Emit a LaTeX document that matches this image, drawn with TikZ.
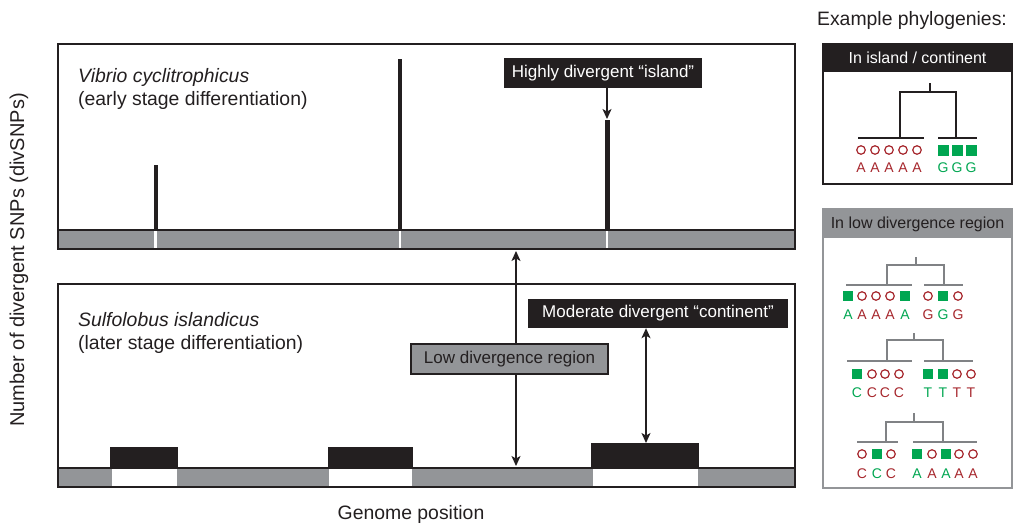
\documentclass[tikz,border=0pt]{standalone}
\usepackage{fontspec}
\setmainfont{Liberation Sans}
\usetikzlibrary{arrows.meta}
\definecolor{ink}{HTML}{231F20}
\definecolor{bargray}{HTML}{939598}
\definecolor{treegray}{HTML}{808285}
\definecolor{sred}{HTML}{A6262C}
\definecolor{sgreen}{HTML}{00A651}
\begin{document}
\begin{tikzpicture}[x=1pt,y=-1pt,
  lab/.style={font=\fontsize{19.4}{23}\selectfont, text=ink, inner sep=0pt},
  blackbox/.style={fill=ink, text=white, font=\fontsize{17}{20}\selectfont, inner sep=0pt},
  graybox/.style={fill=bargray, draw=ink, line width=1.2pt, text=ink, font=\fontsize{17}{20}\selectfont, inner sep=0pt},
  hdr/.style={font=\fontsize{16}{19}\selectfont, inner sep=0pt},
  lett/.style={font=\fontsize{14}{16}\selectfont, inner sep=0pt},
  arr/.style={-{Stealth[length=10pt,width=9pt,inset=2.5pt]}, line width=1.2pt, draw=ink},
  arrr/.style={{Stealth[length=10pt,width=9pt,inset=2.5pt]}-{Stealth[length=10pt,width=9pt,inset=2.5pt]}, line width=1.2pt, draw=ink},
  oc/.style={draw=sred, line width=1.2pt, fill=white, circle, minimum size=8.5pt, inner sep=0pt},
  sq/.style={fill=sgreen, minimum size=11pt, inner sep=0pt},
  sqs/.style={fill=sgreen, minimum size=10pt, inner sep=0pt},
  btree/.style={draw=ink, line width=2pt},
  gtree/.style={draw=treegray, line width=2pt}
]
\useasboundingbox (0,0) rectangle (1014,525);

% ---------- top panel ----------
\fill[bargray] (58,230) rectangle (795,249);
\fill[white] (154.2,231) rectangle (156.8,248);
\fill[white] (398.7,231) rectangle (401.3,248);
\fill[white] (605.7,231) rectangle (608.3,248);
\draw[ink, line width=1.5pt] (58,230) rectangle (795,249);
\draw[ink, line width=2pt] (58,249) -- (58,44) -- (795,44) -- (795,249);
\fill[ink] (153.5,165) rectangle (157.5,230);
\fill[ink] (398,59) rectangle (402,230);
\fill[ink] (605,120) rectangle (609.5,230);
\coordinate (spk3) at (607,119);

\node[lab, anchor=base west] (vib) at (78,82) {\itshape Vibrio cyclitrophicus};
\node[lab, anchor=base west] (vibs) at (78,105) {(early stage differentiation)};

\node[blackbox, minimum width=198pt, minimum height=30pt] (island) at (603,73) {Highly divergent “island”};
\draw[arr] (island.south -| spk3) -- (spk3);

% ---------- bottom panel ----------
\fill[bargray] (58,468) rectangle (795,487);
\fill[white] (112,469) rectangle (177,486);
\fill[white] (329,469) rectangle (412,486);
\fill[white] (593,469) rectangle (698,486);
\draw[ink, line width=1.5pt] (58,468) rectangle (795,487);
\draw[ink, line width=2pt] (58,487) -- (58,284) -- (795,284) -- (795,487);
\fill[ink] (110,447) rectangle (178,468);
\fill[ink] (328,447) rectangle (413,468);
\fill[ink] (591,443) rectangle (699,468);

\node[lab, anchor=base west] (sul) at (78,326) {\itshape Sulfolobus islandicus};
\node[lab, anchor=base west] (suls) at (78,349) {(later stage differentiation)};

\coordinate (lowtop) at (516,251);
\coordinate (lowbot) at (516,466);
\draw[arrr] (lowtop) -- (lowbot);
\node[graybox, minimum width=197pt, minimum height=30pt] (low) at (509.5,359) {Low divergence region};

\node[blackbox, minimum width=260pt, minimum height=29pt] (cont) at (658,313.5) {Moderate divergent “continent”};
\coordinate (blk3) at (646,443);
\draw[arrr] (cont.south -| blk3) -- (blk3);

% ---------- axes labels ----------
\node[lab, rotate=90, font=\fontsize{20}{24}\selectfont] (ylab) at (19,260) {Number of divergent SNPs (divSNPs)};
\node[lab, anchor=base] (xlab) at (411,519) {Genome position};

% ---------- right panel ----------
\node[lab] (ex) at (912,20) {Example phylogenies:};

% box 1
\draw[ink, line width=2pt] (823,44) rectangle (1012,184);
\fill[ink] (823,44) rectangle (1012,72);
\node[hdr, text=white] (h1) at (917.5,58) {In island / continent};
\draw[btree] (930,83) -- (930,92);
\draw[btree] (900,138) -- (900,92) -- (956,92) -- (956,138);
\draw[btree] (858,138) -- (924,138);
\draw[btree] (938,138) -- (977,138);
\foreach \x [count=\i] in {861,875,889,903,917} {
  \node[oc] (a1o\i) at (\x,150) {};
  \node[lett, text=sred] (a1l\i) at (\x,168) {A};
}
\foreach \x [count=\i] in {943,957,971} {
  \node[sq] (a1s\i) at (\x,150) {};
  \node[lett, text=sgreen] (a1g\i) at (\x,168) {G};
}

% box 2
\draw[bargray, line width=2pt] (823,209) rectangle (1012,488);
\fill[bargray] (823,209) rectangle (1012,238);
\node[hdr, text=ink] (h2) at (917.5,224) {In low divergence region};

% tree 1
\draw[gtree] (916,257) -- (916,265);
\draw[gtree] (887,285) -- (887,265) -- (944,265) -- (944,285);
\draw[gtree] (846,285) -- (912,285);
\draw[gtree] (924,285) -- (963,285);
\foreach \x/\k/\c/\t [count=\i] in {848/sqs/sgreen/A,862/oc/sred/A,876/oc/sred/A,890/oc/sred/A,905/sqs/sgreen/A,928/oc/sred/G,943/sqs/sgreen/G,958/oc/sred/G} {
  \node[\k] (b1m\i) at (\x,296) {};
  \node[lett, text=\c] (b1l\i) at (\x,315) {\t};
}

% tree 2
\draw[gtree] (914,333) -- (914,340);
\draw[gtree] (887,361) -- (887,340) -- (943,340) -- (943,361);
\draw[gtree] (847,361) -- (912,361);
\draw[gtree] (924,361) -- (973,361);
\foreach \x/\k/\c/\t [count=\i] in {857/sqs/sgreen/C,872/oc/sred/C,885/oc/sred/C,899/oc/sred/C,928/sqs/sgreen/T,943/sqs/sgreen/T,957/oc/sred/T,971/oc/sred/T} {
  \node[\k] (b2m\i) at (\x,374) {};
  \node[lett, text=\c] (b2l\i) at (\x,393) {\t};
}

% tree 3
\draw[gtree] (914,413) -- (914,422);
\draw[gtree] (886,442) -- (886,422) -- (943,422) -- (943,442);
\draw[gtree] (857,442) -- (898,442);
\draw[gtree] (913,442) -- (977,442);
\foreach \x/\k/\c/\t [count=\i] in {862/oc/sred/C,877/sqs/sgreen/C,891/oc/sred/C,917/sqs/sgreen/A,932/oc/sred/A,946/sqs/sgreen/A,959/oc/sred/A,973/oc/sred/A} {
  \node[\k] (b3m\i) at (\x,454) {};
  \node[lett, text=\c] (b3l\i) at (\x,474) {\t};
}
\end{tikzpicture}
\end{document}
